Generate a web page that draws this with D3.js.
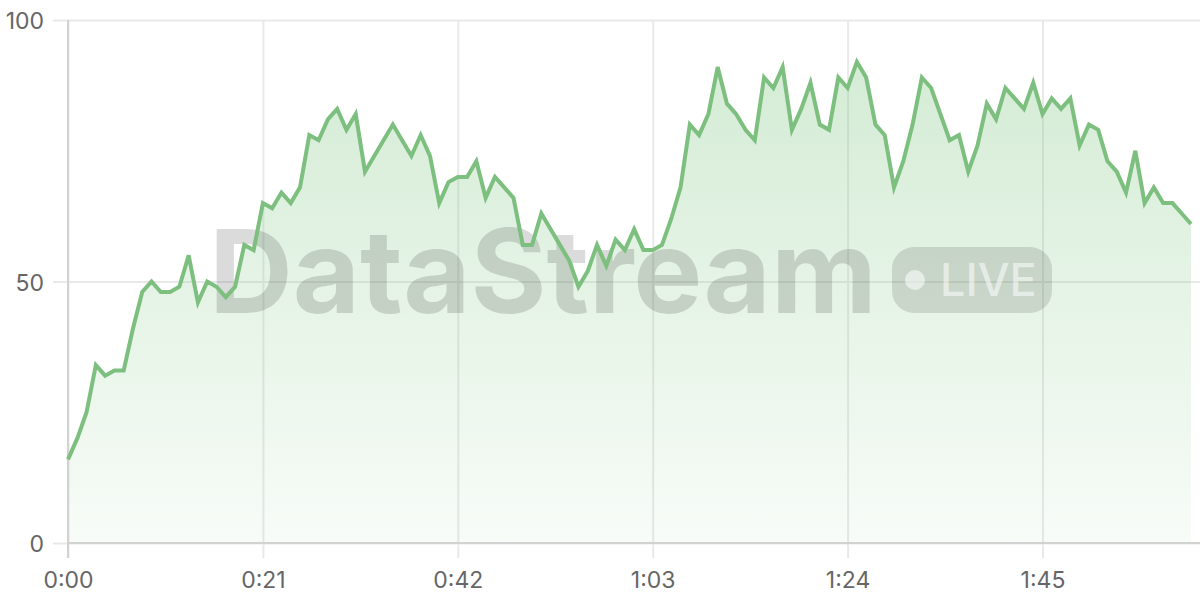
<!DOCTYPE html>
<html>
<head>
<meta charset="utf-8">
<script src="https://cdn.jsdelivr.net/npm/d3@7"></script>
<style>
  html, body { margin: 0; padding: 0; background: #fff; }
  svg { display: block; }
</style>
</head>
<body>
<svg id="chart" width="1200" height="600"></svg>
<script>
// ---- data ----
const seconds = d3.range(0, 122);
const values = [
  16, 20, 25, 34, 32, 33, 33, 41, 48, 50,
  48, 48, 49, 55, 46, 50, 49, 47, 49, 57,
  56, 65, 64, 67, 65, 68, 78, 77, 81, 83,
  79, 82, 71, 74, 77, 80, 77, 74, 78, 74,
  65, 69, 70, 70, 73, 66, 70, 68, 66, 57,
  57, 63, 60, 57, 54, 49, 52, 57, 53, 58,
  56, 60, 56, 56, 57, 62, 68, 80, 78, 82,
  91, 84, 82, 79, 77, 89, 87, 91, 79, 83,
  88, 80, 79, 89, 87, 92, 89, 80, 78, 68,
  73, 80, 89, 87, 82, 77, 78, 71, 76, 84,
  81, 87, 85, 83, 88, 82, 85, 83, 85, 76,
  80, 79, 73, 71, 67, 75, 65, 68, 65, 65,
  63, 61
];
const xTickValues = [0, 21, 42, 63, 84, 105];
const xTickLabels = ["0:00", "0:21", "0:42", "1:03", "1:24", "1:45"];
const yTickValues = [0, 50, 100];
const watermarkText = "DataStream";
const badgeText = "LIVE";

(function () {
  // ---- layout ----
  const plotL = 68, plotR = 1200, plotT = 20, plotB = 543;
  const svg = d3.select("#chart");
  const font = "Inter, 'Noto Sans', 'DejaVu Sans', sans-serif";

  const x = d3.scaleLinear().domain([0, 121]).range([plotL, 1191]);
  const y = d3.scaleLinear().domain([0, 100]).range([plotB, plotT]);

  const data = seconds.map((s, i) => ({ s, v: values[i] }));

  // gradient
  const defs = svg.append("defs");
  const grad = defs.append("linearGradient")
    .attr("id", "areaGrad").attr("x1", 0).attr("y1", 0).attr("x2", 0).attr("y2", 1);
  grad.append("stop").attr("offset", "0%").attr("stop-color", "#81c784").attr("stop-opacity", 0.34);
  grad.append("stop").attr("offset", "100%").attr("stop-color", "#81c784").attr("stop-opacity", 0.06);

  // y grid + labels
  const yAxis = svg.append("g")
    .attr("transform", "translate(53,0)")
    .call(d3.axisLeft(y).tickValues(yTickValues).tickSize(-(plotR - 53)).tickPadding(9).tickFormat(d3.format("d")));
  yAxis.select(".domain").remove();
  yAxis.selectAll(".tick line").attr("stroke", "#e9e9e9").attr("stroke-width", 2);
  yAxis.selectAll(".tick text")
    .attr("fill", "#666").style("font-family", font).style("font-size", "23px")
    .attr("dy", "0.38em");

  // x grid + labels
  const xAxis = svg.append("g")
    .attr("transform", "translate(0,558)")
    .call(d3.axisBottom(x).tickValues(xTickValues).tickSize(-(558 - plotT)).tickPadding(14)
      .tickFormat((d, i) => xTickLabels[i]));
  xAxis.select(".domain").remove();
  xAxis.selectAll(".tick line").attr("stroke", "#e9e9e9").attr("stroke-width", 2);
  xAxis.selectAll(".tick text")
    .attr("fill", "#666").style("font-family", font).style("font-size", "23px");

  // area
  const area = d3.area().x(d => x(d.s)).y0(y(0)).y1(d => y(d.v));
  svg.append("path").datum(data).attr("d", area).attr("fill", "url(#areaGrad)");

  // axis lines
  svg.append("line").attr("x1", x(0)).attr("x2", x(0)).attr("y1", plotT).attr("y2", 558)
    .attr("stroke", "#d2d2d2").attr("stroke-width", 2);
  svg.append("line").attr("x1", plotL).attr("x2", plotR).attr("y1", y(0)).attr("y2", y(0))
    .attr("stroke", "#d2d2d2").attr("stroke-width", 2);

  // watermark
  const wm = svg.append("g").attr("pointer-events", "none");
  wm.append("text")
    .attr("x", 209).attr("y", 313)
    .attr("fill", "rgba(0,0,0,0.14)")
    .style("font-family", font).style("font-weight", 700).style("font-size", "116px")
    .text(watermarkText);
  wm.append("rect")
    .attr("x", 892).attr("y", 247).attr("width", 160).attr("height", 66).attr("rx", 22)
    .attr("fill", "rgba(0,0,0,0.12)");
  wm.append("circle").attr("cx", 915).attr("cy", 280).attr("r", 10)
    .attr("fill", "rgba(255,255,255,0.55)");
  wm.append("text")
    .attr("x", 940).attr("y", 296)
    .attr("fill", "rgba(255,255,255,0.55)")
    .style("font-family", font).style("font-weight", 500).style("font-size", "45px")
    .text(badgeText);

  // line
  const line = d3.line().x(d => x(d.s)).y(d => y(d.v));
  svg.append("path").datum(data).attr("d", line)
    .attr("fill", "none").attr("stroke", "#7dbf7f").attr("stroke-width", 4)
    .attr("stroke-linejoin", "miter").attr("stroke-linecap", "butt");
})();
</script>
</body>
</html>
